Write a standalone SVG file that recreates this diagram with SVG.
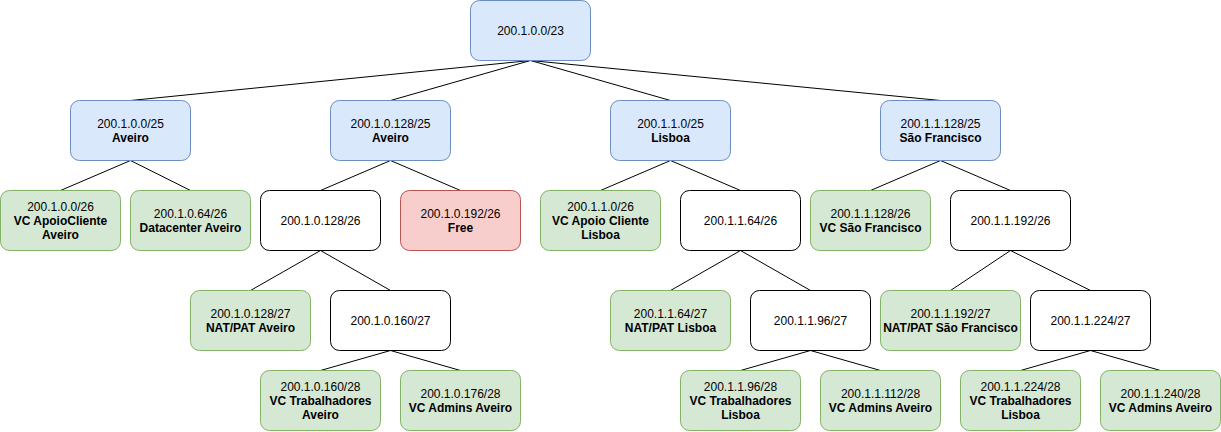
<svg xmlns="http://www.w3.org/2000/svg" width="1221" height="432" viewBox="0 0 1221 432">
<style>
.n rect{stroke-width:1}
.b rect{fill:#dae8fc;stroke:#6c8ebf}
.g rect{fill:#d5e8d4;stroke:#82b366}
.w rect{fill:#ffffff;stroke:#000000}
.r rect{fill:#f8cecc;stroke:#b85450}
text{font-family:"Liberation Sans",Arial,Helvetica,sans-serif;font-size:12px;fill:#000;text-anchor:middle}
.bd{font-weight:bold}
#edges line{stroke:#000;stroke-width:1}
</style>
<rect width="1221" height="432" fill="#ffffff"/>
<g id="edges">
<line x1="530.5" y1="60.5" x2="130.5" y2="100.5"/>
<line x1="530.5" y1="60.5" x2="390.5" y2="100.5"/>
<line x1="530.5" y1="60.5" x2="670.5" y2="100.5"/>
<line x1="530.5" y1="60.5" x2="940.5" y2="100.5"/>
<line x1="130.5" y1="160.5" x2="60.5" y2="190.5"/>
<line x1="130.5" y1="160.5" x2="190.5" y2="190.5"/>
<line x1="390.5" y1="160.5" x2="320.5" y2="190.5"/>
<line x1="390.5" y1="160.5" x2="460.5" y2="190.5"/>
<line x1="670.5" y1="160.5" x2="600.5" y2="190.5"/>
<line x1="670.5" y1="160.5" x2="740.5" y2="190.5"/>
<line x1="940.5" y1="160.5" x2="870.5" y2="190.5"/>
<line x1="940.5" y1="160.5" x2="1010.5" y2="190.5"/>
<line x1="320.5" y1="250.5" x2="250.5" y2="290.5"/>
<line x1="320.5" y1="250.5" x2="390.5" y2="290.5"/>
<line x1="740.5" y1="250.5" x2="670.5" y2="290.5"/>
<line x1="740.5" y1="250.5" x2="810.5" y2="290.5"/>
<line x1="1010.5" y1="250.5" x2="950.5" y2="290.5"/>
<line x1="1010.5" y1="250.5" x2="1090.5" y2="290.5"/>
<line x1="390.5" y1="350.5" x2="320.5" y2="370.5"/>
<line x1="390.5" y1="350.5" x2="460.5" y2="370.5"/>
<line x1="810.5" y1="350.5" x2="740.5" y2="370.5"/>
<line x1="810.5" y1="350.5" x2="880.5" y2="370.5"/>
<line x1="1090.5" y1="350.5" x2="1020.5" y2="370.5"/>
<line x1="1090.5" y1="350.5" x2="1160.5" y2="370.5"/>
</g>
<g id="root" class="n b"><rect x="470.5" y="0.5" width="120" height="60" rx="9"/><text x="530.5" y="34.5">200.1.0.0/23</text></g>
<g id="l1a" class="n b"><rect x="70.5" y="100.5" width="120" height="60" rx="9"/><text x="130.5" y="127.5">200.1.0.0/25</text><text class="bd" x="130.5" y="141.5">Aveiro</text></g>
<g id="l1b" class="n b"><rect x="330.5" y="100.5" width="120" height="60" rx="9"/><text x="390.5" y="127.5">200.1.0.128/25</text><text class="bd" x="390.5" y="141.5">Aveiro</text></g>
<g id="l1c" class="n b"><rect x="610.5" y="100.5" width="120" height="60" rx="9"/><text x="670.5" y="127.5">200.1.1.0/25</text><text class="bd" x="670.5" y="141.5">Lisboa</text></g>
<g id="l1d" class="n b"><rect x="880.5" y="100.5" width="120" height="60" rx="9"/><text x="940.5" y="127.5">200.1.1.128/25</text><text class="bd" x="940.5" y="141.5">São Francisco</text></g>
<g id="l2a" class="n g"><rect x="0.5" y="190.5" width="120" height="60" rx="9"/><text x="60.5" y="210.5">200.1.0.0/26</text><text class="bd" x="60.5" y="224.5">VC ApoioCliente</text><text class="bd" x="60.5" y="238.5">Aveiro</text></g>
<g id="l2b" class="n g"><rect x="130.5" y="190.5" width="120" height="60" rx="9"/><text x="190.5" y="217.5">200.1.0.64/26</text><text class="bd" x="190.5" y="231.5">Datacenter Aveiro</text></g>
<g id="l2c" class="n w"><rect x="260.5" y="190.5" width="120" height="60" rx="9"/><text x="320.5" y="224.5">200.1.0.128/26</text></g>
<g id="l2d" class="n r"><rect x="400.5" y="190.5" width="120" height="60" rx="9"/><text x="460.5" y="217.5">200.1.0.192/26</text><text class="bd" x="460.5" y="231.5">Free</text></g>
<g id="l2e" class="n g"><rect x="540.5" y="190.5" width="120" height="60" rx="9"/><text x="600.5" y="210.5">200.1.1.0/26</text><text class="bd" x="600.5" y="224.5">VC Apoio Cliente</text><text class="bd" x="600.5" y="238.5">Lisboa</text></g>
<g id="l2f" class="n w"><rect x="680.5" y="190.5" width="120" height="60" rx="9"/><text x="740.5" y="224.5">200.1.1.64/26</text></g>
<g id="l2g" class="n g"><rect x="810.5" y="190.5" width="120" height="60" rx="9"/><text x="870.5" y="217.5">200.1.1.128/26</text><text class="bd" x="870.5" y="231.5">VC São Francisco</text></g>
<g id="l2h" class="n w"><rect x="950.5" y="190.5" width="120" height="60" rx="9"/><text x="1010.5" y="224.5">200.1.1.192/26</text></g>
<g id="l3a" class="n g"><rect x="190.5" y="290.5" width="120" height="60" rx="9"/><text x="250.5" y="317.5">200.1.0.128/27</text><text class="bd" x="250.5" y="331.5">NAT/PAT Aveiro</text></g>
<g id="l3b" class="n w"><rect x="330.5" y="290.5" width="120" height="60" rx="9"/><text x="390.5" y="324.5">200.1.0.160/27</text></g>
<g id="l3c" class="n g"><rect x="610.5" y="290.5" width="120" height="60" rx="9"/><text x="670.5" y="317.5">200.1.1.64/27</text><text class="bd" x="670.5" y="331.5">NAT/PAT Lisboa</text></g>
<g id="l3d" class="n w"><rect x="750.5" y="290.5" width="120" height="60" rx="9"/><text x="810.5" y="324.5">200.1.1.96/27</text></g>
<g id="l3e" class="n g"><rect x="880.5" y="290.5" width="140" height="60" rx="9"/><text x="950.5" y="317.5">200.1.1.192/27</text><text class="bd" x="950.5" y="331.5">NAT/PAT São Francisco</text></g>
<g id="l3f" class="n w"><rect x="1030.5" y="290.5" width="120" height="60" rx="9"/><text x="1090.5" y="324.5">200.1.1.224/27</text></g>
<g id="l4a" class="n g"><rect x="260.5" y="370.5" width="120" height="60" rx="9"/><text x="320.5" y="390.5">200.1.0.160/28</text><text class="bd" x="320.5" y="404.5">VC Trabalhadores</text><text class="bd" x="320.5" y="418.5">Aveiro</text></g>
<g id="l4b" class="n g"><rect x="400.5" y="370.5" width="120" height="60" rx="9"/><text x="460.5" y="397.5">200.1.0.176/28</text><text class="bd" x="460.5" y="411.5">VC Admins Aveiro</text></g>
<g id="l4c" class="n g"><rect x="680.5" y="370.5" width="120" height="60" rx="9"/><text x="740.5" y="390.5">200.1.1.96/28</text><text class="bd" x="740.5" y="404.5">VC Trabalhadores</text><text class="bd" x="740.5" y="418.5">Lisboa</text></g>
<g id="l4d" class="n g"><rect x="820.5" y="370.5" width="120" height="60" rx="9"/><text x="880.5" y="397.5">200.1.1.112/28</text><text class="bd" x="880.5" y="411.5">VC Admins Aveiro</text></g>
<g id="l4e" class="n g"><rect x="960.5" y="370.5" width="120" height="60" rx="9"/><text x="1020.5" y="390.5">200.1.1.224/28</text><text class="bd" x="1020.5" y="404.5">VC Trabalhadores</text><text class="bd" x="1020.5" y="418.5">Lisboa</text></g>
<g id="l4f" class="n g"><rect x="1100.5" y="370.5" width="120" height="60" rx="9"/><text x="1160.5" y="397.5">200.1.1.240/28</text><text class="bd" x="1160.5" y="411.5">VC Admins Aveiro</text></g>
</svg>
